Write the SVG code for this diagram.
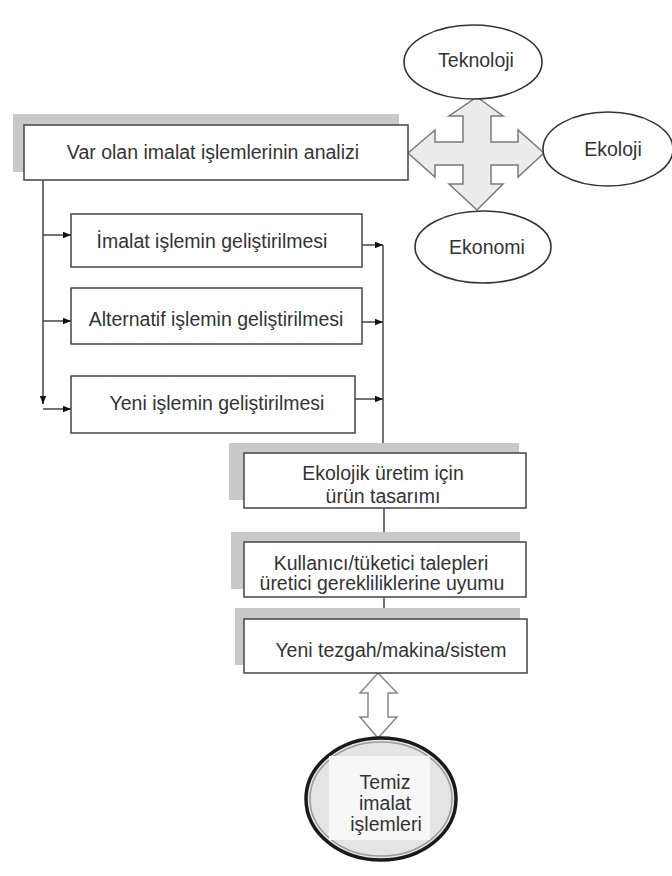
<svg xmlns="http://www.w3.org/2000/svg" width="672" height="876" viewBox="0 0 672 876">
<style>
  text { font-family: "Liberation Sans", Arial, sans-serif; font-size: 19.5px; fill: #333; text-anchor: middle; }
  .box { fill: #fff; stroke: #444; stroke-width: 1.5; }
  .shadow { fill: #c9c9c9; }
  .ell { fill: #fff; stroke: #333; stroke-width: 1.6; }
  .conn { fill: none; stroke: #444; stroke-width: 1.5; }
  .big { fill: #ececec; stroke: #7a7a7a; stroke-width: 1.5; stroke-linejoin: miter; }
</style>
<defs>
  <marker id="ah" viewBox="0 0 10 10" refX="10" refY="5" markerWidth="5" markerHeight="5" orient="auto" markerUnits="userSpaceOnUse">
    <path d="M0,0 L10,5 L0,10 z" fill="#111"/>
  </marker>
  <marker id="ahs" viewBox="0 0 10 10" refX="10" refY="5" markerWidth="8" markerHeight="8" orient="auto" markerUnits="userSpaceOnUse">
    <path d="M0,1 L10,5 L0,9 z" fill="#111"/>
  </marker>
</defs>
<rect width="672" height="876" fill="#fff"/>

<g id="connectors">
  <!-- cross arrow -->
  <polygon class="big" points="477,97 503,116 491,116 491,142 518,142 518,130 544,153 518,177 518,165 491,165 491,184 503,184 477,210 449,184 463,184 463,165 435,165 435,177 408,153 435,130 435,142 463,142 463,116 449,116"/>
  <!-- left distribution -->
  <path class="conn" d="M43,180 V404" stroke="#8a8a8a"/>
  <path class="conn" d="M43,396 V404" marker-end="url(#ahs)"/>
  <path class="conn" d="M43,235 H71" marker-end="url(#ahs)"/>
  <path class="conn" d="M43,321 H71" marker-end="url(#ahs)"/>
  <path class="conn" d="M43,409 H71" marker-end="url(#ahs)"/>
  <!-- right collection -->
  <path class="conn" d="M362,245 H383" marker-end="url(#ahs)"/>
  <path class="conn" d="M362,322 H383" marker-end="url(#ahs)"/>
  <path class="conn" d="M355,399 H383" marker-end="url(#ahs)"/>
  <path class="conn" d="M383,245 V453" marker-end="url(#ahs)"/>
  <!-- vertical chain -->
  <path class="conn" d="M384,508 V542" marker-end="url(#ahs)"/>
  <path class="conn" d="M384,597 V619" marker-end="url(#ahs)"/>
  <!-- double arrow to bottom ellipse -->
  <polygon fill="#fff" stroke="#888" stroke-width="1.5" points="378,673 397,693 388,693 388,717 397,717 378,738 360,717 368,717 368,693 360,693"/>
</g>

<g id="teknoloji">
  <ellipse class="ell" cx="473" cy="62" rx="69" ry="37"/>
  <text x="476" y="67" font-size="19px">Teknoloji</text>
</g>
<g id="ekoloji">
  <ellipse class="ell" cx="608" cy="149" rx="65" ry="37"/>
  <text x="613" y="156" font-size="19px">Ekoloji</text>
</g>
<g id="ekonomi">
  <ellipse class="ell" cx="483" cy="247" rx="68" ry="36"/>
  <text x="487" y="254" font-size="19px">Ekonomi</text>
</g>

<g id="analiz">
  <rect class="shadow" x="13" y="114" width="386" height="58"/>
  <rect class="box" x="24" y="125" width="384" height="55"/>
  <text x="213" y="159">Var olan imalat işlemlerinin analizi</text>
</g>

<g id="imalat">
  <rect class="box" x="71" y="214" width="291" height="53"/>
  <text x="212" y="248">İmalat işlemin geliştirilmesi</text>
</g>
<g id="alternatif">
  <rect class="box" x="71" y="288" width="291" height="56"/>
  <text x="216" y="326">Alternatif işlemin geliştirilmesi</text>
</g>
<g id="yeni">
  <rect class="box" x="71" y="376" width="284" height="57"/>
  <text x="217" y="410">Yeni işlemin geliştirilmesi</text>
</g>

<g id="ekolojik">
  <rect class="shadow" x="229" y="443" width="290" height="57"/>
  <rect class="box" x="244" y="453" width="282" height="55"/>
  <text x="383" y="480">Ekolojik üretim için</text>
  <text x="383" y="503">ürün tasarımı</text>
</g>
<g id="kullanici">
  <rect class="shadow" x="231" y="532" width="289" height="57"/>
  <rect class="box" x="244" y="542" width="282" height="55"/>
  <text x="381" y="570">Kullanıcı/tüketici talepleri</text>
  <text x="382" y="590">üretici gerekliliklerine uyumu</text>
</g>
<g id="tezgah">
  <rect class="shadow" x="235" y="608" width="285" height="57"/>
  <rect class="box" x="244" y="619" width="283" height="54"/>
  <text x="391" y="657">Yeni tezgah/makina/sistem</text>
</g>

<g id="temiz">
  <ellipse cx="381" cy="799" rx="75" ry="61" fill="#e4e4e4" stroke="#1a1a1a" stroke-width="3.5"/>
  <ellipse cx="381" cy="799" rx="71" ry="57" fill="none" stroke="#9a9a9a" stroke-width="1.5"/>
  <rect x="329" y="756" width="101" height="84" fill="#f7f7f7"/>
  <text x="385" y="789" font-size="17px">Temiz</text>
  <text x="385" y="810" font-size="17px">imalat</text>
  <text x="386" y="831" font-size="17px">işlemleri</text>
</g>
</svg>
